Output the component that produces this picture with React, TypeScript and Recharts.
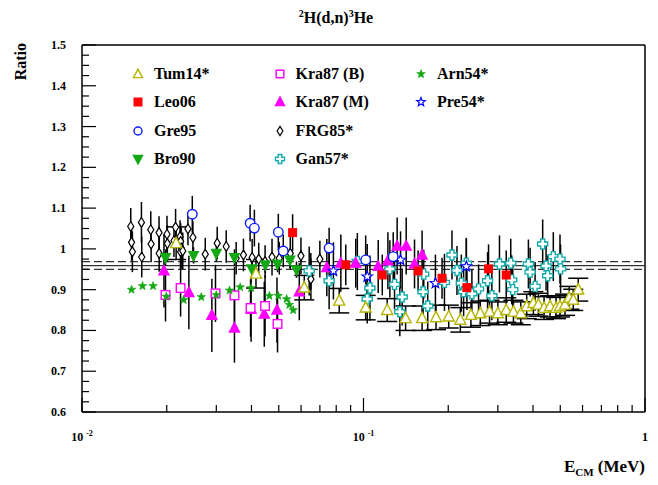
import React from 'react';
import { ScatterChart, Scatter, XAxis, YAxis, ErrorBar, ReferenceLine, Legend } from 'recharts';

const SERIF = '"Liberation Serif", "DejaVu Serif", serif';

// Tum14* – open olive triangles, capped error bars
const tumE = [0.0216, 0.0415, 0.0616, 0.082, 0.1018, 0.1214, 0.1411, 0.1615, 0.181, 0.2008, 0.2208, 0.2408, 0.26, 0.2804, 0.3001, 0.3214, 0.3409, 0.362, 0.38, 0.4013, 0.4181, 0.438, 0.46, 0.483, 0.4989, 0.5197, 0.5383, 0.556, 0.5792];
const tumR = [1.014, 0.939, 0.905, 0.873, 0.856, 0.85, 0.83, 0.83, 0.832, 0.834, 0.826, 0.838, 0.842, 0.846, 0.842, 0.85, 0.846, 0.842, 0.859, 0.867, 0.863, 0.855, 0.859, 0.855, 0.859, 0.863, 0.88, 0.875, 0.9];
const tumErr = [0.04, 0.035, 0.03, 0.03, 0.03, 0.028, 0.03, 0.03, 0.03, 0.028, 0.03, 0.03, 0.03, 0.028, 0.028, 0.03, 0.028, 0.028, 0.03, 0.028, 0.028, 0.028, 0.026, 0.026, 0.026, 0.026, 0.028, 0.026, 0.028];

// Leo06 – red squares
const leoE = [0.056, 0.0865, 0.1166, 0.1563, 0.1901, 0.233, 0.2781, 0.3214];
const leoR = [1.04, 0.961, 0.936, 0.946, 0.928, 0.905, 0.951, 0.936];
const leoErr = [0.045, 0.05, 0.05, 0.05, 0.05, 0.055, 0.06, 0.06];

// Gre95 – open blue circles
const greE = [0.02465, 0.03956, 0.04096, 0.04982, 0.05188, 0.07549, 0.1018, 0.1275];
const greR = [1.085, 1.063, 1.051, 1.041, 0.995, 1.002, 0.973, 0.981];
const greErr = [0.045, 0.045, 0.045, 0.045, 0.04, 0.05, 0.06, 0.06];

// Bro90 – green down triangles
const broE = [0.0198, 0.0249, 0.03, 0.0348, 0.0401, 0.0448, 0.0495, 0.0548, 0.0578];
const broR = [0.979, 0.984, 0.989, 0.979, 0.951, 0.961, 0.963, 0.973, 0.949];
const broErr = [0.02, 0.02, 0.02, 0.02, 0.02, 0.02, 0.02, 0.02, 0.02];

// Kra87 (B) – open magenta squares
const kraBE = [0.0198, 0.0224, 0.0298, 0.0348, 0.0397, 0.0447, 0.0495];
const kraBR = [0.887, 0.904, 0.891, 0.886, 0.855, 0.86, 0.816];
const kraBErr = [0.065, 0.07, 0.07, 0.07, 0.07, 0.075, 0.07];

// Kra87 (M) – filled magenta triangles
const kraME = [0.01955, 0.02397, 0.02893, 0.0348, 0.03987, 0.04442, 0.04928, 0.05914, 0.07408, 0.08308, 0.09384, 0.1128, 0.1221, 0.1317, 0.1418, 0.1518, 0.1615];
const kraMR = [0.946, 0.893, 0.837, 0.806, 0.852, 0.84, 0.85, 0.895, 0.954, 0.965, 0.965, 0.957, 0.971, 1.007, 1.007, 0.963, 0.985];
const kraMErr = [0.09, 0.09, 0.09, 0.085, 0.08, 0.08, 0.08, 0.07, 0.07, 0.07, 0.06, 0.065, 0.07, 0.07, 0.07, 0.06, 0.06];

// FRG85* – open black diamonds
const frgE = [0.0149, 0.015, 0.0151, 0.01626, 0.0163, 0.01755, 0.0176, 0.01878, 0.0188, 0.02004, 0.0201, 0.02122, 0.0215, 0.0223, 0.02241, 0.0225, 0.0224, 0.0228, 0.02379, 0.02477, 0.02741, 0.03022, 0.03253, 0.03529, 0.03746, 0.04022, 0.04244, 0.04471, 0.04732, 0.05022, 0.05494, 0.05995, 0.06503, 0.065, 0.06998];
const frgR = [1.055, 1.016, 0.993, 1.065, 0.98, 1.047, 1.012, 1.04, 0.989, 1.036, 1.013, 1.02, 1.053, 1.03, 1.018, 1.002, 0.993, 0.995, 1.049, 1.028, 0.987, 1.014, 1.006, 0.977, 0.985, 0.979, 0.975, 0.969, 0.98, 0.977, 0.989, 0.983, 0.926, 0.945, 0.975];
const frgErr = [0.045, 0.045, 0.05, 0.05, 0.05, 0.045, 0.045, 0.04, 0.045, 0.045, 0.045, 0.04, 0.045, 0.04, 0.045, 0.05, 0.045, 0.045, 0.04, 0.04, 0.04, 0.04, 0.04, 0.04, 0.04, 0.045, 0.04, 0.04, 0.045, 0.04, 0.04, 0.045, 0.05, 0.045, 0.045];

// Gan57* – open cyan crosses
const ganE = [0.06413, 0.07549, 0.09508, 0.1054, 0.1031, 0.1241, 0.1289, 0.1372, 0.1346, 0.1628, 0.1637, 0.1691, 0.1939, 0.2062, 0.2148, 0.2226, 0.2268, 0.2319, 0.2427, 0.2563, 0.2759, 0.2858, 0.3041, 0.3335, 0.3362, 0.339, 0.3853, 0.3907, 0.407, 0.433, 0.4452, 0.451, 0.4724, 0.4989, 0.5013];
const ganR = [0.946, 0.922, 0.969, 0.904, 0.877, 0.951, 0.913, 0.882, 0.846, 0.895, 0.938, 0.86, 0.918, 0.985, 0.947, 0.916, 0.895, 0.965, 0.89, 0.902, 0.922, 0.885, 0.963, 0.965, 0.924, 0.9, 0.963, 0.943, 0.908, 1.012, 0.958, 0.934, 0.981, 0.975, 0.951];
const ganErr = [0.06, 0.07, 0.07, 0.08, 0.06, 0.07, 0.06, 0.07, 0.06, 0.07, 0.06, 0.06, 0.07, 0.06, 0.06, 0.07, 0.06, 0.06, 0.06, 0.06, 0.07, 0.06, 0.07, 0.06, 0.06, 0.06, 0.06, 0.06, 0.06, 0.06, 0.06, 0.05, 0.06, 0.06, 0.06];

// Arn54* – small filled green stars
const arnE = [0.015, 0.0164, 0.01788, 0.01994, 0.02297, 0.02653, 0.02999, 0.03343, 0.03646, 0.03987, 0.0463, 0.04982, 0.05332, 0.05451, 0.05627];
const arnR = [0.9, 0.909, 0.909, 0.883, 0.875, 0.882, 0.887, 0.898, 0.906, 0.904, 0.885, 0.885, 0.877, 0.863, 0.85];
const arnErr = [0, 0, 0, 0, 0, 0, 0, 0, 0, 0, 0, 0, 0, 0, 0];

// Pre54* – open blue stars
const preE = [0.07818, 0.1031, 0.1354, 0.1801, 0.2319];
const preR = [0.946, 0.932, 0.973, 0.916, 0.957];
const preErr = [0.07, 0.08, 0.07, 0.07, 0.07];

// fit band
const meanLine = 0.959;
const bandLines = [0.969, 0.95];

const xTicks = [0.01, 0.02, 0.03, 0.04, 0.05, 0.06, 0.07, 0.08, 0.09, 0.1, 0.2, 0.3, 0.4, 0.5, 0.6, 0.7, 0.8, 0.9, 1];
const xMajor: Record<string, string> = { '0.01': '-2', '0.1': '-1', '1': '' };
const yTicks = [0.6, 0.625, 0.65, 0.675, 0.7, 0.725, 0.75, 0.775, 0.8, 0.825, 0.85, 0.875, 0.9, 0.925, 0.95, 0.975, 1, 1.025, 1.05, 1.075, 1.1, 1.125, 1.15, 1.175, 1.2, 1.225, 1.25, 1.275, 1.3, 1.325, 1.35, 1.375, 1.4, 1.425, 1.45, 1.475, 1.5];

const rows = (e: number[], r: number[], err: number[]) => e.map((v, i) => ({ e: v, r: r[i], err: err[i] }));

type Kind = 'triUp' | 'triDown' | 'square' | 'circle' | 'diamond' | 'cross' | 'star';

type Series = { name: string; kind: Kind; color: string; filled: boolean; size: number; cap: number; data: { e: number; r: number; err: number }[] };

const OLIVE = '#b5b500';
const GREEN = '#14a814';
const CYAN = '#13abab';

const series: Series[] = [
  { name: 'FRG85*', kind: 'diamond', color: '#000', filled: false, size: 8.5, cap: 0, data: rows(frgE, frgR, frgErr) },
  { name: 'Gan57*', kind: 'cross', color: CYAN, filled: false, size: 10, cap: 0, data: rows(ganE, ganR, ganErr) },
  { name: 'Kra87 (M)', kind: 'triUp', color: '#ff00ff', filled: true, size: 10, cap: 0, data: rows(kraME, kraMR, kraMErr) },
  { name: 'Kra87 (B)', kind: 'square', color: '#ff00ff', filled: false, size: 10, cap: 0, data: rows(kraBE, kraBR, kraBErr) },
  { name: 'Pre54*', kind: 'star', color: '#0000ff', filled: false, size: 11, cap: 0, data: rows(preE, preR, preErr) },
  { name: 'Gre95', kind: 'circle', color: '#0a1aff', filled: false, size: 10.5, cap: 0, data: rows(greE, greR, greErr) },
  { name: 'Bro90', kind: 'triDown', color: GREEN, filled: true, size: 9.5, cap: 0, data: rows(broE, broR, broErr) },
  { name: 'Arn54*', kind: 'star', color: GREEN, filled: true, size: 9, cap: 0, data: rows(arnE, arnR, arnErr) },
  { name: 'Leo06', kind: 'square', color: '#ff0000', filled: true, size: 9, cap: 0, data: rows(leoE, leoR, leoErr) },
  { name: 'Tum14*', kind: 'triUp', color: OLIVE, filled: false, size: 11, cap: 10, data: rows(tumE, tumR, tumErr) },
];

const legendCols = [
  ['Tum14*', 'Leo06', 'Gre95', 'Bro90'],
  ['Kra87 (B)', 'Kra87 (M)', 'FRG85*', 'Gan57*'],
  ['Arn54*', 'Pre54*'],
];

function Marker({ kind, cx, cy, s, color, filled }: { kind: Kind; cx: number; cy: number; s: number; color: string; filled: boolean }) {
  const fill = filled ? color : '#fff';
  const p = { fill, stroke: color, strokeWidth: 1.4 };
  const h = s / 2;
  if (kind === 'triUp') return <polygon {...p} points={`${cx},${cy - s * 0.55} ${cx - h},${cy + s * 0.4} ${cx + h},${cy + s * 0.4}`} />;
  if (kind === 'triDown') return <polygon {...p} points={`${cx},${cy + s * 0.55} ${cx - h},${cy - s * 0.4} ${cx + h},${cy - s * 0.4}`} />;
  if (kind === 'square') return <rect {...p} x={cx - h + 0.7} y={cy - h + 0.7} width={s - 1.4} height={s - 1.4} />;
  if (kind === 'circle') return <circle {...p} cx={cx} cy={cy} r={h - 0.5} />;
  if (kind === 'diamond') return <polygon {...p} strokeWidth={1.2} points={`${cx},${cy - s * 0.58} ${cx + s * 0.36},${cy} ${cx},${cy + s * 0.58} ${cx - s * 0.36},${cy}`} />;
  if (kind === 'cross') {
    const w = s * 0.2;
    const pts = [[-w, -h], [w, -h], [w, -w], [h, -w], [h, w], [w, w], [w, h], [-w, h], [-w, w], [-h, w], [-h, -w], [-w, -w]];
    return <polygon {...p} points={pts.map(([a, b]) => `${cx + a},${cy + b}`).join(' ')} />;
  }
  const pts: string[] = [];
  for (let k = 0; k < 10; k++) {
    const ang = (-90 + k * 36) * Math.PI / 180;
    const rr = k % 2 === 0 ? h : h * 0.42;
    pts.push(`${cx + rr * Math.cos(ang)},${cy + rr * Math.sin(ang)}`);
  }
  return <polygon {...p} strokeWidth={filled ? 0.6 : 1.2} points={pts.join(' ')} />;
}

function XTick(props: any) {
  const { x, y, payload } = props;
  const v = payload.value as number;
  const key = String(v);
  const major = key in xMajor;
  return (
    <g>
      <line x1={x} x2={x} y1={y} y2={y - (major ? 14 : 7)} stroke="#000" strokeWidth={1.2} />
      {major && (
        <text x={x} y={y + 29} textAnchor="middle" fontFamily={SERIF} fontWeight="bold" fontSize={12} fill="#000">
          {xMajor[key] ? (
            <>
              10<tspan dx={3} dy={-5} fontSize={8}>{xMajor[key]}</tspan>
            </>
          ) : '1'}
        </text>
      )}
    </g>
  );
}

function YTick(props: any) {
  const { x, y, payload } = props;
  const v = payload.value as number;
  const major = Math.abs(v * 10 - Math.round(v * 10)) < 1e-6;
  return (
    <g>
      <line x1={x} x2={x + (major ? 14 : 7)} y1={y} y2={y} stroke="#000" strokeWidth={1.2} />
      {major && (
        <text x={x - 16} y={y + 4} textAnchor="end" fontFamily={SERIF} fontWeight="bold" fontSize={12} fill="#000">
          {String(Number(v.toFixed(1)))}
        </text>
      )}
    </g>
  );
}

function LegendBox() {
  return (
    <div style={{ position: 'relative', width: 430, height: 115, fontFamily: SERIF }}>
      {legendCols.map((col, ci) =>
        col.map((name, ri) => {
          const s = series.find((d) => d.name === name)!;
          return (
            <div key={name} style={{ position: 'absolute', left: ci * 141.5, top: ri * 28.3 + 4, height: 20, display: 'flex', alignItems: 'center' }}>
              <svg width={20} height={20}>
                <Marker kind={s.kind} cx={10} cy={10} s={s.kind === 'diamond' ? 8 : 9} color={s.color} filled={s.filled} />
              </svg>
              <span style={{ marginLeft: 6, fontFamily: SERIF, fontSize: 16, fontWeight: 'bold', color: '#000', whiteSpace: 'nowrap' }}>{name}</span>
            </div>
          );
        })
      )}
    </div>
  );
}

export default function App() {
  return (
    <div style={{ position: 'absolute', left: 0, top: 0, width: 658, height: 485, background: '#fff' }}>
      <div style={{ position: 'absolute', left: 0, width: 672, top: 9, textAlign: 'center', fontFamily: SERIF, fontWeight: 'bold', fontSize: 16, color: '#000' }}>
        <span style={{ fontSize: 10, position: 'relative', top: -6 }}>2</span>H(d,n)<span style={{ fontSize: 10, position: 'relative', top: -6 }}>3</span>He
      </div>
      <ScatterChart width={658} height={485} margin={{ top: 45, right: 13, bottom: 33, left: 22 }}>
        <XAxis
          dataKey="e"
          type="number"
          scale="log"
          domain={[0.01, 1]}
          allowDataOverflow
          ticks={xTicks}
          interval={0}
          tickLine={false}
          tickSize={0}
          tickMargin={0}
          tick={<XTick />}
          height={40}
          axisLine={{ stroke: '#000', strokeWidth: 1.5 }}
          label={{
            content: (p: any) => {
              const vb = p.viewBox;
              return (
                <text x={vb.x + vb.width} y={vb.y + 60} textAnchor="end" fontFamily={SERIF} fontWeight="bold" fontSize={17} fill="#000">
                  E<tspan dy={4} fontSize={11}>CM</tspan>
                  <tspan dy={-4}> (MeV)</tspan>
                </text>
              );
            },
          }}
        />
        <YAxis
          dataKey="r"
          type="number"
          domain={[0.6, 1.5]}
          allowDataOverflow
          ticks={yTicks}
          interval={0}
          tickLine={false}
          tickSize={0}
          tickMargin={0}
          tick={<YTick />}
          width={60}
          axisLine={{ stroke: '#000', strokeWidth: 1.5 }}
          label={{
            content: (p: any) => {
              const vb = p.viewBox;
              return (
                <text x={26} y={vb.y - 2} transform={`rotate(-90 26 ${vb.y - 2})`} textAnchor="end" fontFamily={SERIF} fontWeight="bold" fontSize={16} fill="#000">
                  Ratio
                </text>
              );
            },
          }}
        />
        <ReferenceLine y={1.5} stroke="#000" strokeWidth={1.5} />
        <ReferenceLine x={1} stroke="#000" strokeWidth={1.5} />
        <ReferenceLine y={meanLine} stroke="#333" strokeWidth={1.4} />
        {bandLines.map((v) => (
          <ReferenceLine key={v} y={v} stroke="#333" strokeWidth={1.2} strokeDasharray="8 4" />
        ))}
        {series.map((s) => (
          <Scatter
            key={s.name}
            name={s.name}
            data={s.data}
            fill={s.color}
            isAnimationActive={false}
            shape={(p: any) => <Marker kind={s.kind} cx={p.cx} cy={p.cy} s={s.size} color={s.color} filled={s.filled} />}
          >
            <ErrorBar dataKey="err" direction="y" width={s.cap} stroke="#000" strokeWidth={1.5} />
          </Scatter>
        ))}
        <Legend layout="vertical" align="center" verticalAlign="middle" content={<LegendBox />} wrapperStyle={{ top: 60, left: 128, width: 430 }} />
      </ScatterChart>
    </div>
  );
}
